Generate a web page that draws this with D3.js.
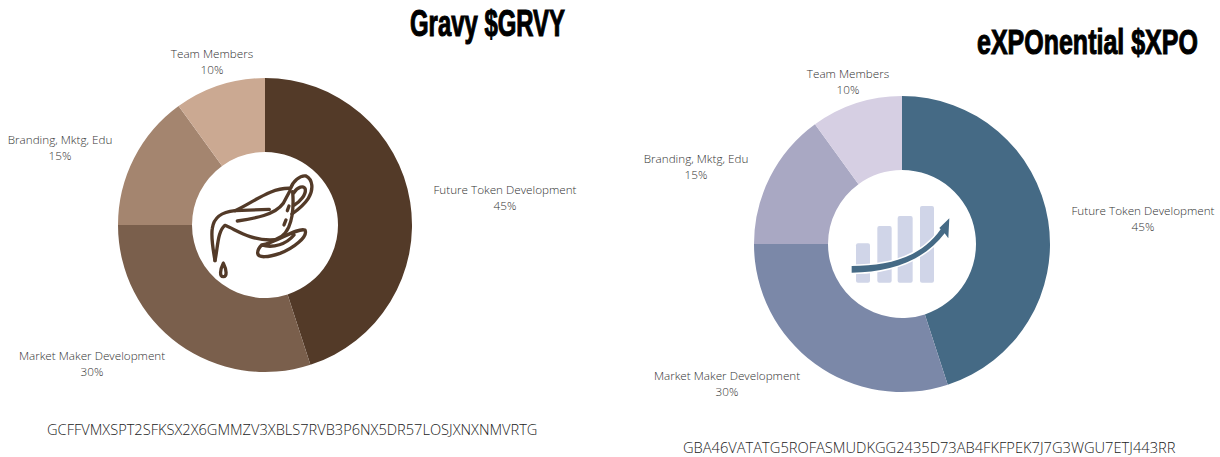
<!DOCTYPE html>
<html><head><meta charset="utf-8">
<script src="https://cdn.jsdelivr.net/npm/d3@7"></script>
<style>html,body{margin:0;padding:0;background:#fff;overflow:hidden}svg{display:block}</style>
</head><body><div id="chart"></div>
<script>
const categories = ["Future Token Development","Market Maker Development","Branding, Mktg, Edu","Team Members"];
const shares = [45,30,15,10];
const titles = ["Gravy $GRVY","eXPOnential $XPO"];
const addresses = ["GCFFVMXSPT2SFKSX2X6GMMZV3XBLS7RVB3P6NX5DR57LOSJXNXNMVRTG","GBA46VATATG5ROFASMUDKGG2435D73AB4FKFPEK7J7G3WGU7ETJ443RR"];
const gravyColors = ["#533a28","#7a5f4c","#a4856f","#cba992"];
const xpoColors = ["#456a85","#7b88a8","#a9a8c3","#d6cfe3"];

const panels = [
 {cx:265,cy:225,R:147,r:73,colors:gravyColors,title:titles[0],tx:410,tw:155,ty:36,ts:36,addr:addresses[0],ax:47,aw:491,ay:435,
  offs:[[240,-31],[-173,135],[-205,-81],[-53,-167]]},
 {cx:902,cy:244,R:148,r:74,colors:xpoColors,title:titles[1],tx:977,tw:221,ty:54,ts:36,addr:addresses[1],ax:683,aw:493,ay:453,
  offs:[[241,-29],[-175,136],[-206,-81],[-54,-166]]}
];
const svg = d3.select("#chart").append("svg").attr("width",1220).attr("height",457);
const pie = d3.pie().sort(null);
panels.forEach(p=>{
  const g = svg.append("g").attr("transform",`translate(${p.cx},${p.cy})`);
  const arc = d3.arc().innerRadius(p.r).outerRadius(p.R);
  g.selectAll("path").data(pie(shares)).join("path").attr("d",arc).attr("fill",(d,i)=>p.colors[i]);
  const lab = g.selectAll("text").data(categories).join("text")
    .attr("text-anchor","middle").attr("font-family","'Open Sans'").attr("font-size",11.7).attr("font-weight",300).attr("fill","#333");
  lab.append("tspan").attr("x",(d,i)=>p.offs[i][0]).attr("y",(d,i)=>p.offs[i][1]).text(d=>d);
  lab.append("tspan").attr("x",(d,i)=>p.offs[i][0]).attr("y",(d,i)=>p.offs[i][1]+16).text((d,i)=>shares[i]+"%");
  const t = svg.append("text").text(p.title)
    .attr("font-family","'Liberation Sans'").attr("font-weight",700).attr("font-size",p.ts)
    .attr("fill","#000").attr("stroke","#000").attr("stroke-width",1.1);
  const sx = p.tw / t.node().getComputedTextLength();
  t.attr("transform",`translate(${p.tx},${p.ty}) scale(${sx},1)`);
  const a = svg.append("text").text(p.addr)
    .attr("font-family","'Open Sans'").attr("font-size",14).attr("font-weight",300).attr("fill","#222");
  const ax = p.aw / a.node().getComputedTextLength();
  a.attr("transform",`translate(${p.ax},${p.ay}) scale(${ax},1)`);
});
// gravy boat icon
const boat = svg.append("g").attr("transform","translate(180,150) scale(0.3333)")
  .attr("fill","none").attr("stroke","#533a28").attr("stroke-width",10).attr("stroke-linecap","round").attr("stroke-linejoin","round");
["M105,332 C100,300 92,265 97,235 C102,200 125,186 165,182 L268,178",
 "M165,182 C220,158 270,112 332,115 C338,95 360,75 378,78 C398,88 402,118 385,145 C372,165 350,182 336,192",
 "M342,128 C352,110 372,105 376,118 C378,135 360,155 343,165",
 "M105,332 C114,290 112,245 135,226 C170,240 210,270 270,270 C322,270 345,215 338,125",
 "M172,213 C225,205 285,195 310,160 L330,122",
 "M312,225 L318,210","M322,182 L327,168",
 "M245,285 C290,278 350,232 375,240 C385,260 340,295 300,310 C265,322 235,325 233,310 C232,298 240,290 245,285 C280,296 320,282 342,255",
 "M130,340 C120,360 118,380 130,380 C142,380 140,360 130,340"
].forEach(d=>boat.append("path").attr("d",d));
// growth icon
const growth = svg.append("g").attr("transform","translate(820,170) scale(0.3333)");
growth.selectAll("rect").data([[108,220,42],[172,168,43],[233,138,45],[300,108,42]]).join("rect")
  .attr("x",d=>d[0]).attr("y",d=>d[1]).attr("width",d=>d[2]).attr("height",d=>338-d[1]).attr("rx",6).attr("fill","#d0d5e8");
const band = "M95,288 C205,288 305,262 362,178 L358,174 L388,145 L385,205 L374,190 C315,270 210,308 95,308 Z";
growth.append("path").attr("d",band).attr("fill","#456a85").attr("stroke","#fff").attr("stroke-width",9).attr("paint-order","stroke");
</script></body></html>
